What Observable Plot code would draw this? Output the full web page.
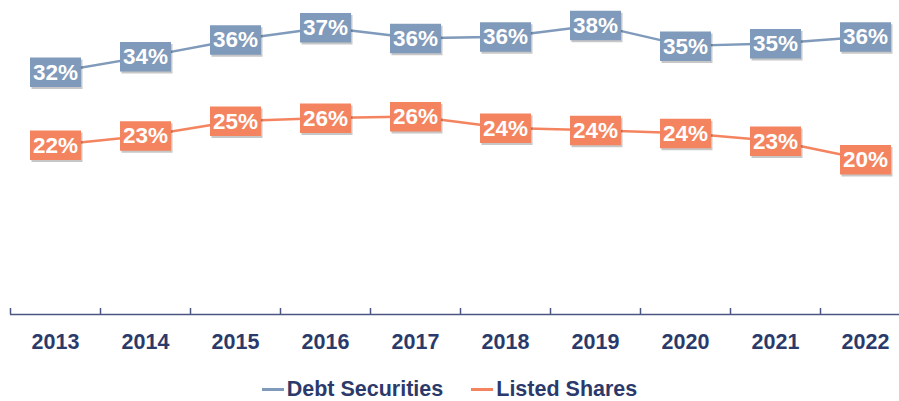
<!DOCTYPE html>
<html><head><meta charset="utf-8">
<script src="https://cdn.jsdelivr.net/npm/d3@7"></script>
<script src="https://cdn.jsdelivr.net/npm/@observablehq/plot@0.6"></script>
<style>
body{margin:0;background:#fff;font-family:Arial,"Liberation Sans",sans-serif;}
#chart svg{display:block}
#legend{display:flex;justify-content:center;gap:28px;height:24px;line-height:24px;margin-top:12px;font-size:21.5px;font-weight:bold;color:#2b3a6b}
.item{display:flex;align-items:center}
.sw{width:22px;height:3px;margin-right:3px}
</style></head><body><div id="chart"></div><div id="legend"></div>
<script>
const years = ["2013","2014","2015","2016","2017","2018","2019","2020","2021","2022"];
const debtSecurities = [0.316, 0.336, 0.358, 0.374, 0.360, 0.362, 0.377, 0.350, 0.353, 0.362];
const listedShares   = [0.221, 0.233, 0.252, 0.256, 0.258, 0.243, 0.240, 0.236, 0.226, 0.202];
const seriesNames = ["Debt Securities", "Listed Shares"];
const seriesColors = ["#7f9aba", "#f4845f"];

const rows = years.flatMap((y, i) => [
  {year: y, series: seriesNames[0], value: debtSecurities[i]},
  {year: y, series: seriesNames[1], value: listedShares[i]}
]);
const fmt = d3.format(".0%");
const navy = "#2b3a6b";
const axisColor = "#4b5783";
const W = 899, H = 365;
const left = 10, right = 910;
const step = (right - left) / years.length;
const boxSymbol = {draw(ctx) { ctx.rect(-25.5, -14.5, 51, 29.5); }};

const chart = Plot.plot({
  width: W, height: H,
  marginTop: 7, marginBottom: 51, marginLeft: left, marginRight: 0,
  style: {fontFamily: "Arial, 'Liberation Sans', sans-serif", fontSize: "21.5px", fontWeight: "bold", color: navy, background: "white"},
  x: {type: "point", domain: years, range: [left, right], padding: 0.5, tickSize: 0, tickPadding: 19, label: null},
  y: {domain: [0, 0.4], axis: null},
  color: {domain: seriesNames, range: seriesColors},
  marks: [
    Plot.ruleY([0], {stroke: axisColor, strokeWidth: 1.5}),
    Plot.ruleX(years, {x: d => d, y1: 0, y2: 0, insetBottom: 6, dx: -step / 2, stroke: axisColor, strokeWidth: 1.5}),
    Plot.line(rows, {x: "year", y: "value", z: "series", stroke: "series", strokeWidth: 2.5}),
    Plot.dot(rows, {x: "year", y: "value", symbol: boxSymbol, fill: "#000", fillOpacity: 0.22, dx: 1.5, dy: 2}),
    Plot.dot(rows, {x: "year", y: "value", symbol: boxSymbol, fill: "series"}),
    Plot.text(rows, {x: "year", y: "value", text: d => fmt(d.value), fill: "white", fontSize: 22.5, fontWeight: "bold", dy: 0.5})
  ]
});
document.getElementById("chart").append(chart);

const legend = document.getElementById("legend");
seriesNames.forEach((name, i) => {
  const item = document.createElement("div");
  item.className = "item";
  const sw = document.createElement("span");
  sw.className = "sw";
  sw.style.background = seriesColors[i];
  const label = document.createElement("span");
  label.textContent = name;
  item.append(sw, label);
  legend.append(item);
});
</script>
</body></html>
